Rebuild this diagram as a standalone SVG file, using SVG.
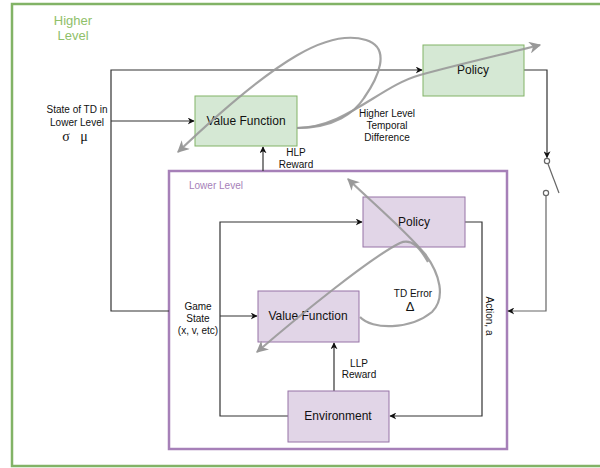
<svg xmlns="http://www.w3.org/2000/svg" width="600" height="468" viewBox="0 0 600 468">
<defs>
<style>
text{font-family:"Liberation Sans",Arial,sans-serif;fill:#111;}
.lbl{font-size:10px;text-anchor:middle;}
.node{font-size:12px;text-anchor:middle;}
.hi rect{fill:#d5e8d4;stroke:#82b366;stroke-width:1;}
.lo rect{fill:#e1d5e7;stroke:#9673a6;stroke-width:1;}
.conn{fill:none;stroke:#333;stroke-width:1.2;}
.sw{fill:none;stroke:#666;stroke-width:1.2;}
.td{fill:none;stroke:#999;stroke-width:2.2;stroke-opacity:0.9;}
</style>
<marker id="arr" viewBox="0 0 10 10" refX="9" refY="5" markerWidth="7" markerHeight="7" orient="auto" markerUnits="userSpaceOnUse">
<path d="M0,0 L10,5 L0,10 L3,5 Z" fill="#111"/>
</marker>
<marker id="garr" viewBox="0 0 10 10" refX="9" refY="5" markerWidth="12" markerHeight="12" orient="auto" markerUnits="userSpaceOnUse">
<path d="M0,0 L10,5 L0,10 L3,5 Z" fill="#999"/>
</marker>
</defs>

<g id="higher-level-frame">
<rect x="12" y="4" width="592" height="462" fill="none" stroke="#82b366" stroke-width="2.5"/>
<text x="73" y="25" style="font-size:13px;text-anchor:middle;fill:#8fc06a;">Higher</text>
<text x="73" y="40" style="font-size:13px;text-anchor:middle;fill:#8fc06a;">Level</text>
</g>

<g id="lower-level-frame">
<rect x="169" y="171" width="338" height="278" fill="none" stroke="#a680b8" stroke-width="2.5"/>
<text x="189" y="189" style="font-size:10px;fill:#a680b8;">Lower Level</text>
</g>

<g id="connectors">
<path class="conn" d="M169,311 H111 V70 H422" marker-end="url(#arr)"/>
<path class="conn" d="M111,121 H194" marker-end="url(#arr)"/>
<path class="conn" d="M263,171 V147" marker-end="url(#arr)"/>
<path class="conn" d="M524,70 H547 V157.5" marker-end="url(#arr)"/>
<circle class="sw" cx="547" cy="161" r="2.6" fill="#fff"/>
<path class="sw" d="M548,164 L559,193"/>
<circle class="sw" cx="546" cy="193" r="2.6" fill="#fff"/>
<path class="sw" d="M546,195.6 V311 H508" marker-end="url(#arr)"/>
<path class="conn" d="M288,416 H220 V222 H362" marker-end="url(#arr)"/>
<path class="conn" d="M220,316 H257" marker-end="url(#arr)"/>
<path class="conn" d="M465,222 H482 V416 H390" marker-end="url(#arr)"/>
<path class="conn" d="M334,391 V343" marker-end="url(#arr)"/>
</g>

<g id="hl-value-function" class="hi">
<rect x="195" y="96" width="102" height="50"/>
<text class="node" x="246" y="125">Value Function</text>
</g>
<g id="hl-policy" class="hi">
<rect x="423" y="45" width="101" height="51"/>
<text class="node" x="473" y="74">Policy</text>
</g>
<g id="ll-policy" class="lo">
<rect x="363" y="197" width="102" height="50"/>
<text class="node" x="414" y="226">Policy</text>
</g>
<g id="ll-value-function" class="lo">
<rect x="258" y="291" width="101" height="51"/>
<text class="node" x="308" y="320">Value Function</text>
</g>
<g id="environment" class="lo">
<rect x="288" y="391" width="101" height="51"/>
<text class="node" x="338" y="420">Environment</text>
</g>

<g id="td-curves">
<path class="td" d="M297,128 C335,128 355,112 364,98 C378,78 392,48 366,40 C330,29 280,55 178,152" marker-end="url(#garr)"/>
<path class="td" d="M297,128 C345,128 380,86 420,75 C460,64 500,55 540,45" marker-end="url(#garr)"/>
<path class="td" d="M360,317 C372,330 410,330 432,312 C446,298 440,274 425,254 C405,230 375,205 348,179" marker-end="url(#garr)"/>
<path class="td" d="M428,262 C420,248 412,238 400,243 C370,258 300,315 257,352" marker-end="url(#garr)"/>
</g>

<g id="labels">
<text class="lbl" x="77" y="113">State of TD in</text>
<text class="lbl" x="77" y="126">Lower Level</text>
<text x="75" y="141" style="font-family:'Liberation Serif','DejaVu Serif',serif;font-size:14px;text-anchor:middle;">σ&#160;&#160;&#160;μ</text>
<text class="lbl" x="296" y="156">HLP</text>
<text class="lbl" x="296" y="168">Reward</text>
<text class="lbl" x="387" y="117">Higher Level</text>
<text class="lbl" x="387" y="129">Temporal</text>
<text class="lbl" x="387" y="141">Difference</text>
<text class="lbl" x="198" y="310">Game</text>
<text class="lbl" x="198" y="322">State</text>
<text class="lbl" x="198" y="334">(x, v, etc)</text>
<text class="lbl" x="413" y="297">TD Error</text>
<text x="410" y="311" style="font-size:13px;text-anchor:middle;">Δ</text>
<text class="lbl" x="359" y="367">LLP</text>
<text class="lbl" x="359" y="378">Reward</text>
<text class="lbl" transform="translate(489,316) rotate(90)" dy="0.35em">Action, a</text>
</g>
</svg>
